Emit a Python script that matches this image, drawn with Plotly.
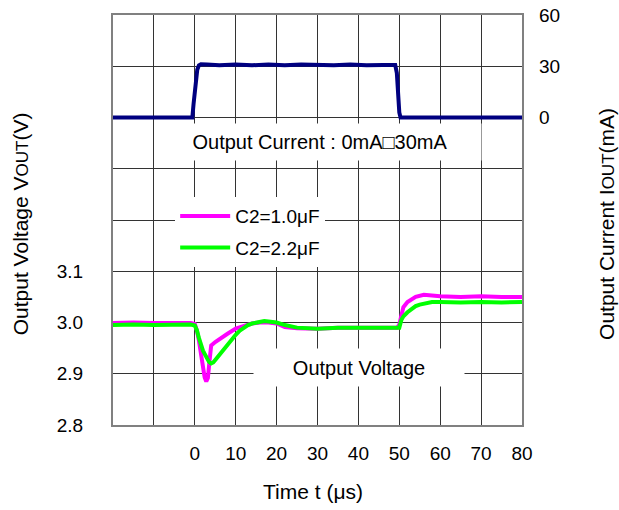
import plotly.graph_objects as go

# Load current step (right axis, mA)
t_cur = [-20, -1.0, -0.6, -0.3, 0.0, 0.3, 0.6, 1.0, 1.5, 3, 6, 10, 14, 18, 22, 26, 30, 34, 38, 42, 46, 49.0,
         49.4, 49.7, 50.0, 50.3, 52, 60, 70, 80]
i_cur = [0, 0, 0, 8, 16, 23, 28, 30.5, 31.2, 31, 30.6, 31, 30.6, 31, 30.6, 31, 30.8, 30.6, 31, 30.6, 30.8, 30.8,
         26, 14, 3, 0, 0, 0, 0, 0]

# Output voltage, C2 = 1.0uF
t_v1 = [-20, -15, -10, -5, -1, 0, 0.5, 1, 1.5, 2, 2.4, 2.8, 3.2, 3.6, 4, 5, 6, 8, 10, 12, 14, 16, 18, 20, 22,
        25, 30, 35, 40, 45, 49.5, 50, 50.5, 51, 52, 53, 54, 56, 58, 60, 65, 70, 75, 80]
v_v1 = [2.999, 3.0, 2.999, 2.999, 2.999, 2.997, 2.985, 2.965, 2.94, 2.912, 2.893, 2.885, 2.892, 2.925, 2.955,
        2.962, 2.968, 2.978, 2.988, 2.994, 2.998, 3.0, 3.0, 2.998, 2.991, 2.989, 2.988, 2.99, 2.99, 2.99, 2.99,
        2.996, 3.016, 3.03, 3.04, 3.046, 3.05, 3.054, 3.052, 3.051, 3.05, 3.051, 3.05, 3.05]

# Output voltage, C2 = 2.2uF
t_v2 = [-20, -15, -10, -5, -1, 0, 0.5, 1, 2, 3, 3.5, 4, 4.5, 5, 6, 7, 8, 9, 10, 11, 12, 13, 14, 15, 16, 17, 18,
        20, 22, 25, 30, 35, 40, 45, 49.5, 50, 50.5, 51, 52, 53, 54, 55, 56, 58, 60, 65, 70, 75, 80]
v_v2 = [2.995, 2.996, 2.995, 2.995, 2.996, 2.994, 2.985, 2.97, 2.945, 2.93, 2.923, 2.92, 2.922, 2.927, 2.937,
        2.948, 2.958, 2.968, 2.976, 2.984, 2.99, 2.995, 2.998, 3.0, 3.002, 3.003, 3.002, 3.0, 2.995, 2.99,
        2.988, 2.99, 2.99, 2.99, 2.99, 2.99, 3.005, 3.012, 3.02, 3.027, 3.032, 3.035, 3.037, 3.04, 3.04, 3.039,
        3.04, 3.039, 3.04]

x_ticks = [-20, -10, 0, 10, 20, 30, 40, 50, 60, 70, 80]
x_labels = ["", "", "0", "10", "20", "30", "40", "50", "60", "70", "80"]
v_ticks = [2.8, 2.9, 3.0, 3.1, 3.2, 3.3, 3.4, 3.5, 3.6]
v_labels = ["2.8", "2.9", "3.0", "3.1", "", "", "", "", ""]
i_ticks = [0, 30, 60]

FONT = "Liberation Sans, Arial, sans-serif"

fig = go.Figure()

fig.add_trace(go.Scatter(
    x=t_v1, y=v_v1, mode="lines", name="C2=1.0μF",
    line=dict(color="#FF00FF", width=4), legendgroup="a",
))
fig.add_trace(go.Scatter(
    x=t_v2, y=v_v2, mode="lines", name="C2=2.2μF",
    line=dict(color="#00FF00", width=4), legendgroup="b",
))
fig.add_trace(go.Scatter(
    x=t_cur, y=i_cur, mode="lines", yaxis="y2", showlegend=False,
    line=dict(color="#000080", width=4),
))

# white-boxed labels inside the plot
fig.add_annotation(
    x=30.5, y=3.352, xref="x", yref="y", text="Output Current : 0mA□30mA",
    showarrow=False, bgcolor="white", width=320, height=34,
    font=dict(size=20, color="black", family=FONT),
)
fig.add_annotation(
    x=40.2, y=2.913, xref="x", yref="y", text="Output Voltage",
    showarrow=False, bgcolor="white", width=208, height=35,
    font=dict(size=20, color="black", family=FONT),
)

# axis titles
fig.add_annotation(
    x=-0.227, y=0.49, xref="paper", yref="paper", textangle=-90,
    xanchor="center", yanchor="middle",
    text="Output Voltage V<span style='font-size:17px'>OUT</span>(V)",
    showarrow=False, font=dict(size=21, color="black", family=FONT),
)
fig.add_annotation(
    x=1.205, y=0.49, xref="paper", yref="paper", textangle=-90,
    xanchor="center", yanchor="middle",
    text="Output Current I<span style='font-size:17px'>OUT</span>(mA)",
    showarrow=False, font=dict(size=21, color="black", family=FONT),
)
fig.add_annotation(
    x=0.49, y=-0.163, xref="paper", yref="paper",
    xanchor="center", yanchor="middle",
    text="Time t (μs)", showarrow=False,
    font=dict(size=21, color="black", family=FONT),
)

fig.update_layout(
    width=619, height=510,
    margin=dict(l=113, r=97, t=15, b=85, autoexpand=False),
    paper_bgcolor="white", plot_bgcolor="white",
    font=dict(family=FONT, size=19, color="black"),
    xaxis=dict(
        range=[-20, 80], tickvals=x_ticks, ticktext=x_labels,
        showgrid=True, gridcolor="#333333", gridwidth=1, zeroline=False,
        showline=True, linecolor="#808080", linewidth=2, mirror=True,
        ticks="", ticklabelstandoff=10, automargin=False,
    ),
    yaxis=dict(
        range=[2.8, 3.6], tickvals=v_ticks, ticktext=v_labels,
        showgrid=True, gridcolor="#333333", gridwidth=1, zeroline=False,
        showline=True, linecolor="#808080", linewidth=2, mirror=True,
        ticks="", ticklabelstandoff=24, automargin=False,
    ),
    yaxis2=dict(
        range=[-180, 60], tickvals=i_ticks, overlaying="y", side="right",
        showgrid=False, zeroline=False, showline=False,
        ticks="", ticklabelstandoff=16, automargin=False,
        ticklabeloverflow="allow",
    ),
    legend=dict(
        x=0.152, y=0.556, xanchor="left", yanchor="top",
        bgcolor="white", borderwidth=0, tracegroupgap=4,
        font=dict(size=19, family=FONT), itemwidth=50,
        traceorder="grouped",
    ),
)

# drop the default page margin so the figure fills the window exactly
fig.write_html(
    "out.html",
    config={"displayModeBar": False},
    post_script="document.body.style.margin='0';document.body.style.overflow='hidden';",
)
